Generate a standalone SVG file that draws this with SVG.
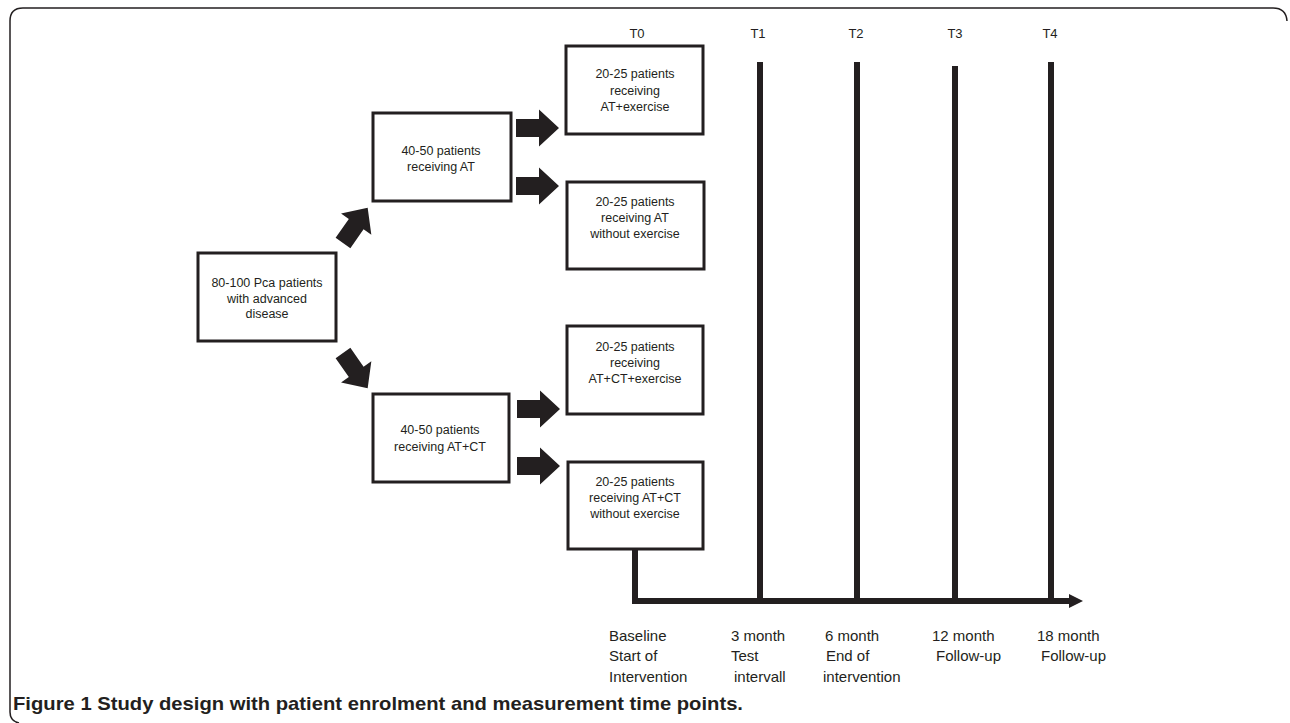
<svg xmlns="http://www.w3.org/2000/svg" width="1290" height="723" viewBox="0 0 1290 723">
<defs>
<style>
.box{fill:#fff;stroke:#231f20;stroke-width:3}
.bt{font-family:"Liberation Sans",Arial,sans-serif;font-size:12.5px;fill:#231f20;text-anchor:middle}
.tl{font-family:"Liberation Sans",Arial,sans-serif;font-size:13px;fill:#231f20;text-anchor:middle}
.lb{font-family:"Liberation Sans",Arial,sans-serif;font-size:15px;fill:#231f20}
.cap{font-family:"Liberation Sans",Arial,sans-serif;font-size:19px;font-weight:bold;fill:#231f20}
.bar{stroke:#231f20;stroke-width:6;fill:none}
.arr{fill:#231f20}
</style>
<path id="blk" d="M0,-9 L23,-9 L23,-18.5 L43,0 L23,18.5 L23,9 L0,9 Z"/>
</defs>
<rect width="1290" height="723" fill="#fff"/>
<path d="M19,723 Q10,721 10,712 L10,21 Q10,8 23,8 L1273,8 Q1286,8 1287,21" fill="none" stroke="#231f20" stroke-width="1.5"/>

<g id="connectors">
<use href="#blk" class="arr" transform="translate(343,243) rotate(-55)"/>
<use href="#blk" class="arr" transform="translate(343,353) rotate(55)"/>
<use href="#blk" class="arr" transform="translate(516,128)"/>
<use href="#blk" class="arr" transform="translate(516,186)"/>
<use href="#blk" class="arr" transform="translate(517,409)"/>
<use href="#blk" class="arr" transform="translate(517,466)"/>
</g>

<g id="timeline">
<line class="bar" x1="635" y1="549" x2="635" y2="604"/>
<line class="bar" x1="632" y1="601" x2="1072" y2="601"/>
<polygon class="arr" points="1069,594 1083,601 1069,608"/>
<line class="bar" x1="760" y1="62" x2="760" y2="601"/>
<line class="bar" x1="857" y1="62" x2="857" y2="601"/>
<line class="bar" x1="955" y1="66" x2="955" y2="601"/>
<line class="bar" x1="1051" y1="62" x2="1051" y2="601"/>
<text class="tl" x="637" y="38">T0</text>
<text class="tl" x="758" y="38">T1</text>
<text class="tl" x="856" y="38">T2</text>
<text class="tl" x="955" y="38">T3</text>
<text class="tl" x="1050" y="38">T4</text>
<text class="lb" x="609" y="641">Baseline</text>
<text class="lb" x="609" y="661">Start of</text>
<text class="lb" x="609" y="682">Intervention</text>
<text class="lb" x="731" y="641">3 month</text>
<text class="lb" x="731" y="661">Test</text>
<text class="lb" x="734" y="682">intervall</text>
<text class="lb" x="825" y="641">6 month</text>
<text class="lb" x="826" y="661">End of</text>
<text class="lb" x="823" y="682">intervention</text>
<text class="lb" x="932" y="641">12 month</text>
<text class="lb" x="936" y="661">Follow-up</text>
<text class="lb" x="1037" y="641">18 month</text>
<text class="lb" x="1041" y="661">Follow-up</text>
</g>

<g id="nodeA">
<rect class="box" x="198" y="253" width="138" height="88"/>
<text class="bt" x="267" y="287">80-100 Pca patients</text>
<text class="bt" x="267" y="303">with advanced</text>
<text class="bt" x="267" y="318">disease</text>
</g>
<g id="nodeB">
<rect class="box" x="373" y="113" width="138" height="88"/>
<text class="bt" x="441" y="155">40-50 patients</text>
<text class="bt" x="441" y="171">receiving AT</text>
</g>
<g id="nodeC">
<rect class="box" x="373" y="394" width="136" height="88"/>
<text class="bt" x="440" y="434">40-50 patients</text>
<text class="bt" x="440" y="451">receiving AT+CT</text>
</g>
<g id="nodeD">
<rect class="box" x="566" y="46" width="137" height="88"/>
<text class="bt" x="635" y="78">20-25 patients</text>
<text class="bt" x="635" y="95">receiving</text>
<text class="bt" x="635" y="111">AT+exercise</text>
</g>
<g id="nodeE">
<rect class="box" x="567" y="182" width="137" height="87"/>
<text class="bt" x="635" y="206">20-25 patients</text>
<text class="bt" x="635" y="222">receiving AT</text>
<text class="bt" x="635" y="238">without exercise</text>
</g>
<g id="nodeF">
<rect class="box" x="567" y="326" width="136" height="88"/>
<text class="bt" x="635" y="351">20-25 patients</text>
<text class="bt" x="635" y="367">receiving</text>
<text class="bt" x="635" y="383">AT+CT+exercise</text>
</g>
<g id="nodeG">
<rect class="box" x="568" y="462" width="135" height="87"/>
<text class="bt" x="635" y="486">20-25 patients</text>
<text class="bt" x="635" y="502">receiving AT+CT</text>
<text class="bt" x="635" y="518">without exercise</text>
</g>

<text class="cap" x="13" y="710" textLength="730" lengthAdjust="spacingAndGlyphs">Figure 1 Study design with patient enrolment and measurement time points.</text>
</svg>
